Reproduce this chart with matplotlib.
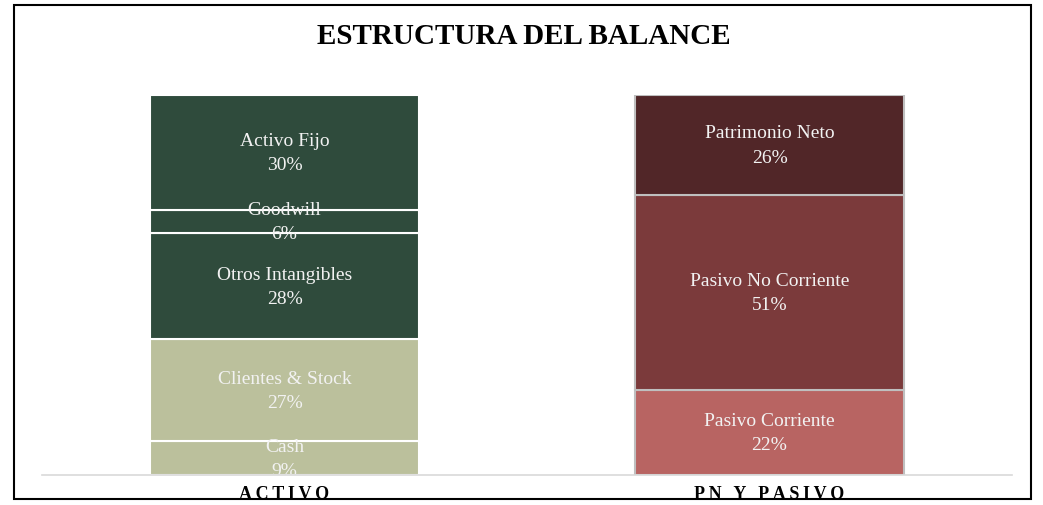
import matplotlib.pyplot as plt
from matplotlib.patches import Rectangle

plt.rcParams['font.family'] = ['Liberation Serif', 'DejaVu Serif']

# datos (%)
categorias = ['ACTIVO', 'PN Y PASIVO']

activo_nombres = ['Cash', 'Clientes & Stock', 'Otros Intangibles', 'Goodwill', 'Activo Fijo']
activo_valores = [8.9, 26.8, 27.9, 6.2, 30.2]
activo_colores = ['#BBC09C', '#BBC09C', '#2F4B3C', '#2F4B3C', '#2F4B3C']

pasivo_nombres = ['Pasivo Corriente', 'Pasivo No Corriente', 'Patrimonio Neto']
pasivo_valores = [22.4, 51.3, 26.3]
pasivo_colores = ['#B86462', '#7B3A3B', '#512628']

fig = plt.figure(figsize=(10.43, 5.06), dpi=100)
ax = fig.add_axes([0.0403, 0.0593, 0.930, 0.751])

ancho = 0.553


def apilar(x, nombres, valores, colores, borde):
    base = 0
    for nom, val, col in zip(nombres, valores, colores):
        ax.bar(x, val, bottom=base, width=ancho, color=col,
               edgecolor=borde, linewidth=1.5, zorder=2)
        ax.text(x, base + val / 2, f"{nom}\n{val:.0f}%", ha='center', va='center',
                color='#F2F2F2', fontsize=14, linespacing=1.55, zorder=3,
                clip_on=True)
        base += val


apilar(0, activo_nombres, activo_valores, activo_colores, 'white')
apilar(1, pasivo_nombres, pasivo_valores, pasivo_colores, '#BFBFBF')

ax.set_xlim(-0.5, 1.5)
ax.set_ylim(0, 100)
ax.set_xticks([0, 1])
# etiquetas con letras espaciadas
ax.set_xticklabels(['\u2009'.join(c) for c in categorias], fontweight='bold', fontsize=13)
ax.tick_params(axis='x', length=0, pad=7)
ax.set_yticks([])
for s in ['top', 'right', 'left']:
    ax.spines[s].set_visible(False)
ax.spines['bottom'].set_color('#D9D9D9')
ax.spines['bottom'].set_linewidth(1.2)
ax.spines['bottom'].set_zorder(4)

fig.text(0.502, 0.928, 'ESTRUCTURA DEL BALANCE', ha='center', va='center',
         fontsize=21, fontweight='bold')

# marco exterior
fig.patches.append(Rectangle((14 / 1043, 1 - 500 / 506), 1017 / 1043, 494 / 506,
                             transform=fig.transFigure, fill=False,
                             edgecolor='black', linewidth=1.5))

fig.savefig('out.png', dpi=100)
